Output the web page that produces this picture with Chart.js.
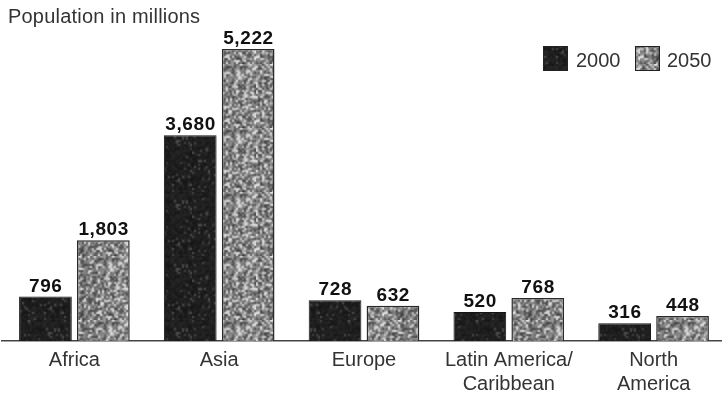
<!DOCTYPE html>
<html>
<head>
<meta charset="utf-8">
<script src="https://cdn.jsdelivr.net/npm/chart.js@4.4.1/dist/chart.umd.min.js"></script>
<style>
  html, body { margin: 0; padding: 0; background: #fff; overflow: hidden; }
  #wrap { position: relative; width: 728px; height: 394px; }
</style>
</head>
<body>
<div id="wrap"><canvas id="chart"></canvas></div>
<script>
// Population by region, millions
const regions = [['Africa'], ['Asia'], ['Europe'], ['Latin America/', 'Caribbean'], ['North', 'America']];
const years = ['2000', '2050'];
const pop2000 = [796, 3680, 728, 520, 316];
const pop2050 = [1803, 5222, 632, 768, 448];
const yMax = 6100;
const axisTitle = 'Population in millions';

const FONT = "'Liberation Sans', Arial, Helvetica, sans-serif";
const INK = '#333';

/* ---------- print-style fills ---------- */

function mulberry32(a) {
  return function () {
    a |= 0; a = (a + 0x6D2B79F5) | 0;
    let t = Math.imul(a ^ (a >>> 15), 1 | a);
    t = (t + Math.imul(t ^ (t >>> 7), 61 | t)) ^ t;
    return ((t ^ (t >>> 14)) >>> 0) / 4294967296;
  };
}

// grainy tile: pick per-cell tone, then upscale with smoothing so it clumps
function grainTile(seed, tone) {
  const n = 32;
  const small = document.createElement('canvas');
  small.width = small.height = n;
  const g = small.getContext('2d');
  const img = g.createImageData(n, n);
  const rnd = mulberry32(seed);
  for (let i = 0; i < n * n; i++) {
    const v = tone(rnd);
    img.data[i * 4] = img.data[i * 4 + 1] = img.data[i * 4 + 2] = v;
    img.data[i * 4 + 3] = 255;
  }
  g.putImageData(img, 0, 0);
  const big = document.createElement('canvas');
  big.width = big.height = n * 2;
  const bg = big.getContext('2d');
  bg.imageSmoothingEnabled = true;
  bg.drawImage(small, 0, 0, n * 2, n * 2);
  return bg.createPattern(big, 'repeat');
}

const darkFill = grainTile(7, (r) => {
  const x = r();
  return x < 0.08 ? 60 + r() * 30 : 20 + r() * 20;
});
const stippleFill = grainTile(21, (r) => {
  const x = r();
  if (x < 0.24) return 195 + r() * 45;
  if (x < 0.66) return 115 + r() * 45;
  return 60 + r() * 40;
});

/* ---------- text drawn on top of the plot ---------- */

const annotate = {
  id: 'annotate',
  afterDatasetsDraw(chart) {
    const { ctx } = chart;
    ctx.save();
    ctx.font = `bold 19px ${FONT}`;
    ctx.fillStyle = '#111';
    ctx.textAlign = 'center';
    ctx.textBaseline = 'alphabetic';
    ctx.letterSpacing = '0.6px';
    chart.data.datasets.forEach((ds, i) => {
      chart.getDatasetMeta(i).data.forEach((bar, j) => {
        ctx.fillText(ds.data[j].toLocaleString('en-US'), bar.x + 0.3, bar.y - 5);
      });
    });
    ctx.restore();
  },
  afterDraw(chart) {
    const { ctx } = chart;
    ctx.save();
    ctx.font = `20px ${FONT}`;
    ctx.fillStyle = INK;
    ctx.textBaseline = 'alphabetic';
    ctx.letterSpacing = '0.2px';
    ctx.fillText(axisTitle, 8, 23);

    // legend, top right
    const items = [
      { box: 543, text: 576 },
      { box: 635, text: 667 },
    ];
    chart.data.datasets.forEach((ds, i) => {
      const it = items[i];
      ctx.fillStyle = ds.backgroundColor;
      ctx.fillRect(it.box, 46, 25, 25);
      ctx.strokeStyle = '#222';
      ctx.lineWidth = 1;
      ctx.strokeRect(it.box + 0.5, 46.5, 24, 24);
      ctx.fillStyle = INK;
      ctx.letterSpacing = '0px';
      ctx.fillText(ds.label, it.text, 67);
    });
    ctx.restore();
  },
};

new Chart(document.getElementById('chart'), {
  type: 'bar',
  data: {
    labels: regions,
    datasets: [
      {
        label: years[0],
        data: pop2000,
        backgroundColor: darkFill,
        borderColor: '#151515',
        borderWidth: 1,
        categoryPercentage: 0.8,
        barPercentage: 0.91,
      },
      {
        label: years[1],
        data: pop2050,
        backgroundColor: stippleFill,
        borderColor: '#2a2a2a',
        borderWidth: 1.5,
        categoryPercentage: 0.8,
        barPercentage: 0.91,
      },
    ],
  },
  options: {
    responsive: true,
    maintainAspectRatio: false,
    animation: false,
    layout: { padding: { left: 2, right: 2, top: 0, bottom: 0 } },
    plugins: {
      legend: { display: false },
      title: { display: false },
      tooltip: { enabled: false },
    },
    scales: {
      x: {
        grid: { display: false, drawTicks: false },
        border: { display: true, color: '#444', width: 1.5 },
        ticks: {
          color: INK,
          font: { family: FONT, size: 20, lineHeight: 1.22 },
          padding: 7,
          maxRotation: 0,
          autoSkip: false,
        },
        afterFit(scale) { scale.height = 53; },
      },
      y: {
        display: false,
        min: 0,
        max: yMax,
      },
    },
  },
  plugins: [annotate],
});
</script>
</body>
</html>
